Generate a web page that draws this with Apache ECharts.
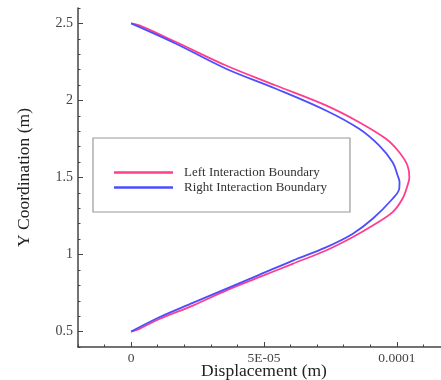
<!DOCTYPE html>
<html><head><meta charset="utf-8">
<script src="https://cdn.jsdelivr.net/npm/echarts@6/dist/echarts.min.js"></script>
<style>html,body{margin:0;padding:0;background:#fff}#c{width:441px;height:380px}</style>
</head><body><div id="c"></div>
<script>
// Left Interaction Boundary (pink): Y coordinate (m) and displacement (m)
const leftY = [0.50,0.518,0.582,0.669,0.766,0.853,0.940,1.026,1.112,1.188,1.275,1.362,1.448,1.50,1.578,1.664,1.751,1.859,1.968,2.097,2.227,2.379,2.487,2.50];
const leftX = [0,0.31e-5,1.06e-5,2.32e-5,3.57e-5,4.82e-5,6.08e-5,7.33e-5,8.33e-5,9.09e-5,9.84e-5,10.21e-5,10.40e-5,10.47e-5,10.40e-5,10.09e-5,9.59e-5,8.58e-5,7.33e-5,5.45e-5,3.57e-5,1.69e-5,0.31e-5,0];
// Right Interaction Boundary (blue)
const rightY = [0.50,0.593,0.686,0.777,0.868,0.961,1.047,1.134,1.232,1.362,1.427,1.47,1.513,1.599,1.708,1.816,1.935,2.076,2.206,2.368,2.50];
const rightX = [0,1.06e-5,2.32e-5,3.57e-5,4.82e-5,6.08e-5,7.33e-5,8.33e-5,9.09e-5,9.84e-5,10.09e-5,10.10e-5,10.03e-5,9.84e-5,9.33e-5,8.58e-5,7.33e-5,5.45e-5,3.57e-5,1.69e-5,0];
const seriesNames = ['Left Interaction Boundary','Right Interaction Boundary'];
const xTickValues = [0, 5e-5, 1e-4];
const xTickLabels = ['0', '5E-05', '0.0001'];
const yTickValues = [0.5, 1, 1.5, 2, 2.5];
const yTickLabels = ['0.5', '1', '1.5', '2', '2.5'];

const FONT = '"Liberation Serif", "Times New Roman", serif';
const chart = echarts.init(document.getElementById('c'), null, {renderer:'canvas'});
const pair = (xs, ys) => xs.map((x, i) => [x, ys[i]]);
const xFmt = v => { const i = xTickValues.findIndex(t => Math.abs(t - v) < 1e-9); return i >= 0 ? xTickLabels[i] : ''; };
const yFmt = v => { const i = yTickValues.findIndex(t => Math.abs(t - v) < 1e-6); return i >= 0 ? yTickLabels[i] : ''; };
const axisCol = '#444';
chart.setOption({
  animation: false,
  grid: {left: 78, top: 8, right: -9, bottom: 33, containLabel: false, outerBoundsMode: 'none'},
  legend: {
    orient: 'vertical', left: 93, top: 138,
    padding: [28, 23, 18, 21],
    borderColor: '#999', borderWidth: 1.2,
    itemWidth: 59, itemHeight: 2.5, itemGap: 2,
    icon: 'rect',
    textStyle: {fontFamily: FONT, fontSize: 13, color: '#333', padding: [0,0,0,6]},
    data: seriesNames
  },
  xAxis: [{
    type: 'value', min: -2e-5, max: 1.2e-4, position: 'bottom',
    axisLine: {onZero: false, lineStyle: {color: axisCol, width: 1.5}},
    axisTick: {show: true, inside: true, length: 5, customValues: xTickValues, lineStyle: {color: axisCol}},
    axisLabel: {customValues: xTickValues, formatter: xFmt, fontFamily: FONT, fontSize: 13.5, color: '#444', margin: 4},
    splitLine: {show: false},
    name: 'Displacement (m)', nameLocation: 'middle', nameGap: 15, nameMoveOverlap: false,
    nameTextStyle: {fontFamily: FONT, fontSize: 17.5, color: '#222'}
  }, {
    type: 'value', min: -2e-5, max: 1.2e-4, interval: 1e-5, position: 'bottom', gridIndex: 0,
    axisLine: {show: false, onZero: false},
    axisTick: {show: true, inside: true, length: 2.5, lineStyle: {color: axisCol}},
    axisLabel: {show: false}, splitLine: {show: false}
  }],
  yAxis: [{
    type: 'value', min: 0.4, max: 2.6, position: 'left',
    axisLine: {show: true, onZero: false, lineStyle: {color: axisCol, width: 1.5}},
    axisTick: {show: true, inside: true, length: 5, customValues: yTickValues, lineStyle: {color: axisCol}},
    axisLabel: {customValues: yTickValues, formatter: yFmt, fontFamily: FONT, fontSize: 14, color: '#444', margin: 5},
    splitLine: {show: false},
    name: 'Y Coordination (m)', nameLocation: 'middle', nameGap: 45,
    nameTextStyle: {fontFamily: FONT, fontSize: 17.5, color: '#222'}
  }, {
    type: 'value', min: 0.4, max: 2.6, interval: 0.1, position: 'left', gridIndex: 0,
    axisLine: {show: false, onZero: false},
    axisTick: {show: true, inside: true, length: 2.5, lineStyle: {color: axisCol}},
    axisLabel: {show: false}, splitLine: {show: false}
  }],
  series: [{
    name: seriesNames[0], type: 'line', xAxisIndex: 0, yAxisIndex: 0,
    data: pair(leftX, leftY), showSymbol: false, symbol: 'none',
    smooth: 0.35, lineStyle: {color: '#ff3d8e', width: 1.8}, itemStyle: {color: '#ff3d8e'}
  }, {
    name: seriesNames[1], type: 'line', xAxisIndex: 0, yAxisIndex: 0,
    data: pair(rightX, rightY), showSymbol: false, symbol: 'none',
    smooth: 0.35, lineStyle: {color: '#4d4dff', width: 1.8}, itemStyle: {color: '#4d4dff'}
  }]
});
</script></body></html>
